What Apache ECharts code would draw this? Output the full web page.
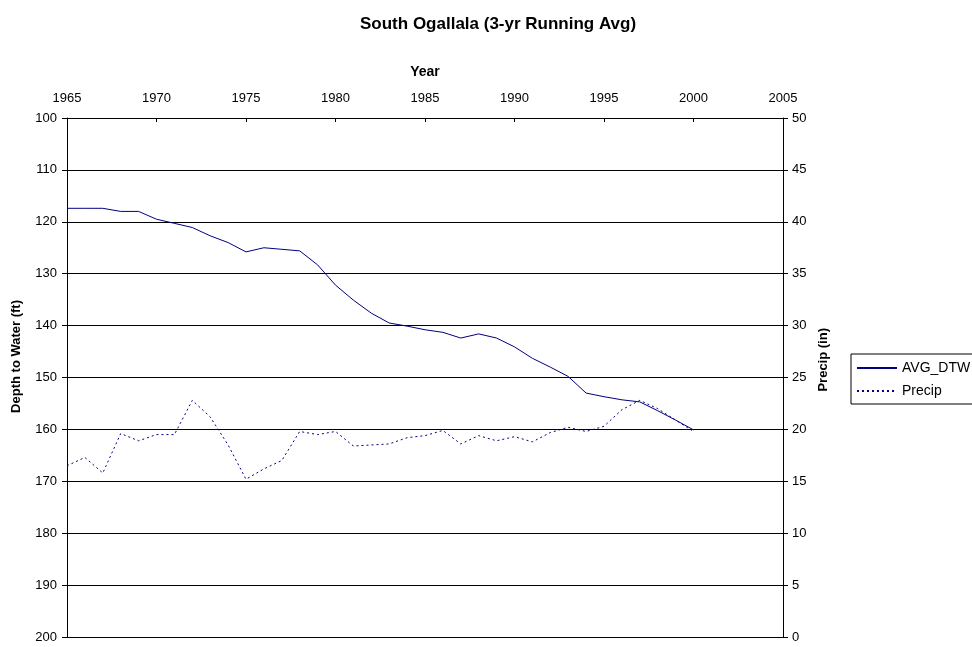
<!DOCTYPE html>
<html>
<head>
<meta charset="utf-8">
<script src="https://cdn.jsdelivr.net/npm/echarts@6/dist/echarts.min.js"></script>
<style>
html, body { margin: 0; padding: 0; background: #fff; }
#chart { width: 972px; height: 647px; }
</style>
</head>
<body>
<div id="chart"></div>
<script>
var years = [1965, 1966, 1967, 1968, 1969, 1970, 1971, 1972, 1973, 1974, 1975, 1976,
             1977, 1978, 1979, 1980, 1981, 1982, 1983, 1984, 1985, 1986, 1987, 1988,
             1989, 1990, 1991, 1992, 1993, 1994, 1995, 1996, 1997, 1998, 1999, 2000];
var avgDtw = [117.4, 117.4, 117.4, 118.0, 118.0, 119.5, 120.3, 121.1, 122.7, 124.0, 125.8, 125.0,
              125.3, 125.6, 128.3, 132.2, 135.1, 137.6, 139.5, 140.1, 140.8, 141.3, 142.4, 141.6,
              142.4, 144.1, 146.3, 148.0, 149.8, 153.0, 153.7, 154.3, 154.7, 156.4, 158.2, 160.1];
var precip = [16.5, 17.3, 15.8, 19.6, 18.9, 19.5, 19.5, 22.8, 21.2, 18.5, 15.2, 16.2,
              17.0, 19.8, 19.5, 19.8, 18.4, 18.5, 18.6, 19.2, 19.4, 19.9, 18.6, 19.4,
              18.9, 19.3, 18.8, 19.7, 20.2, 19.8, 20.3, 21.9, 22.8, 22.0, 20.9, 19.8];

var dtwPts = [];
var prPts = [];
for (var i = 0; i < years.length; i++) {
    dtwPts.push([years[i], avgDtw[i]]);
    prPts.push([years[i], precip[i]]);
}

var font = 'Liberation Sans, Arial, sans-serif';
var myChart = echarts.init(document.getElementById('chart'));
var option = {
    animation: false,
    backgroundColor: '#fff',
    textStyle: { fontFamily: font },
    title: {
        text: 'South Ogallala (3-yr Running Avg)',
        left: 355,
        top: 11,
        textStyle: { fontFamily: font, fontSize: 17, fontWeight: 'bold', color: '#000' }
    },
    legend: {
        orient: 'vertical',
        left: 851,
        top: 354,
        itemWidth: 40,
        itemHeight: 10,
        itemGap: 9,
        padding: [7, 14, 6, 5],
        borderColor: '#000',
        borderWidth: 1,
        itemStyle: { opacity: 0 },
        textStyle: { fontFamily: font, fontSize: 14, color: '#000' },
        data: ['AVG_DTW', 'Precip']
    },
    grid: { left: 67, right: 189, top: 118, bottom: 10 },
    xAxis: {
        type: 'value',
        position: 'top',
        min: 1965,
        max: 2005,
        interval: 5,
        name: 'Year',
        nameLocation: 'middle',
        nameGap: 39,
        nameTextStyle: { fontFamily: font, fontSize: 14, fontWeight: 'bold', color: '#000' },
        axisLine: { onZero: false, lineStyle: { color: '#000' } },
        axisTick: { inside: true, length: 4, lineStyle: { color: '#000' } },
        axisLabel: {
            margin: 13,
            color: '#000',
            fontSize: 13,
            formatter: function (v) { return String(v); }
        },
        splitLine: { show: false }
    },
    yAxis: [{
        type: 'value',
        inverse: true,
        min: 100,
        max: 200,
        interval: 10,
        position: 'left',
        axisLine: { show: true, onZero: false, lineStyle: { color: '#000' } },
        axisTick: { show: true, length: 5, lineStyle: { color: '#000' } },
        axisLabel: { margin: 10, color: '#000', fontSize: 13 },
        splitLine: { show: true, lineStyle: { color: '#000', width: 1 } }
    }, {
        type: 'value',
        min: 0,
        max: 50,
        interval: 5,
        position: 'right',
        axisLine: { show: true, onZero: false, lineStyle: { color: '#000' } },
        axisTick: { show: true, length: 5, lineStyle: { color: '#000' } },
        axisLabel: { margin: 9, color: '#000', fontSize: 13 },
        splitLine: { show: false }
    }],
    graphic: [{
        type: 'text',
        left: 10,
        top: 300,
        rotation: Math.PI / 2,
        style: {
            text: 'Depth to Water (ft)',
            fill: '#000',
            font: 'bold 13px ' + font
        }
    }, {
        type: 'text',
        left: 817,
        top: 328,
        rotation: Math.PI / 2,
        style: {
            text: 'Precip (in)',
            fill: '#000',
            font: 'bold 13px ' + font
        }
    }],
    series: [{
        name: 'AVG_DTW',
        type: 'line',
        yAxisIndex: 0,
        data: dtwPts,
        symbol: 'none',
        lineStyle: { color: '#000080', width: 1, type: 'solid' },
        itemStyle: { color: '#000080' }
    }, {
        name: 'Precip',
        type: 'line',
        yAxisIndex: 1,
        data: prPts,
        symbol: 'none',
        lineStyle: { color: '#000080', width: 1, type: [2, 3] },
        itemStyle: { color: '#000080' }
    }]
};
myChart.setOption(option);
</script>
</body>
</html>
